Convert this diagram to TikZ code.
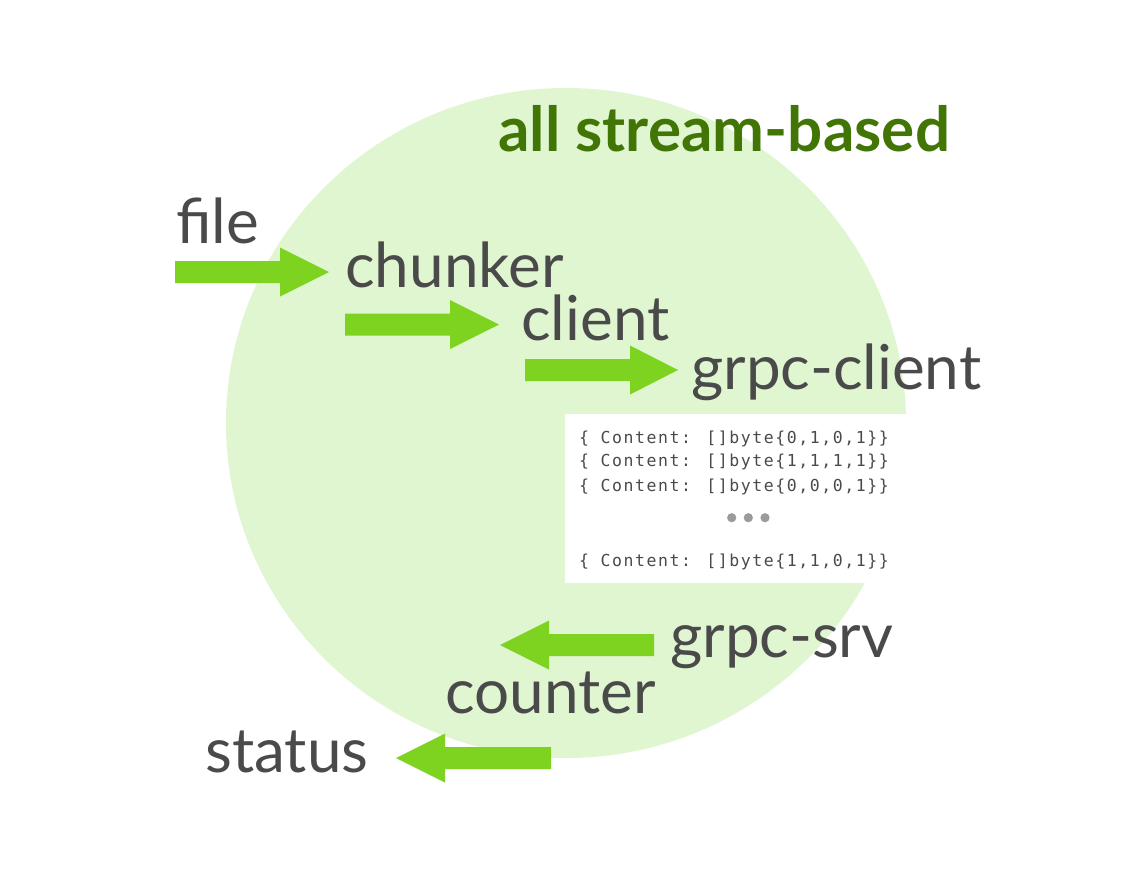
\documentclass[tikz,border=0pt]{standalone}
\usepackage{fontspec}
\setmainfont{Lato}
\newfontfamily\codefont[LetterSpace=9.5]{DejaVu Sans Mono}
\usetikzlibrary{calc}
\definecolor{bubble}{RGB}{224,246,208}
\definecolor{arrowgreen}{RGB}{126,211,33}
\definecolor{titlegreen}{RGB}{65,117,5}
\definecolor{txt}{RGB}{74,74,74}
\definecolor{dotgray}{RGB}{155,155,155}
\newcommand\fatarrow[3]{%
  \fill[arrowgreen] ($(#1)+(0,-11)$) -- ($(#2)+(#3,-11)$) -- ($(#2)+(#3,-24.5)$) -- (#2)
    -- ($(#2)+(#3,24.5)$) -- ($(#2)+(#3,11)$) -- ($(#1)+(0,11)$) -- cycle;}
\begin{document}
\begin{tikzpicture}[x=1pt,y=-1pt,
  lbl/.style={anchor=base west,inner sep=0pt,text=txt,font=\fontsize{62}{62}\selectfont},
  code/.style={anchor=base west,inner sep=0pt,text=txt,font=\codefont\fontsize{16.5}{16.5}\selectfont},
  dot/.style={fill=dotgray}]
\useasboundingbox (0,0) rectangle (1134,876);
\fill[white] (0,0) rectangle (1134,876);
\fill[bubble] (566,423) ellipse [x radius=340, y radius=335];
\fill[white] (565,414) rectangle (910,583);
\node[anchor=base west,inner sep=0pt,text=titlegreen,font=\bfseries\fontsize{62}{62}\selectfont] (title) at (498,151) {all stream-based};
\node[lbl] (file) at (176,243) {file};
\node[lbl] (chunker) at (345,287) {chunker};
\node[lbl] (client) at (521,340) {client};
\node[lbl] (grpcclient) at (691,389) {grpc-client};
\node[lbl] (grpcsrv) at (670,657) {grpc-srv};
\node[lbl] (counter) at (445,713) {counter};
\node[lbl] (status) at (205,772) {status};
\node[code] (c1) at (579,443.3) {\{ Content: []byte\{0,1,0,1\}\}};
\node[code] (c2) at (579,466.7) {\{ Content: []byte\{1,1,1,1\}\}};
\node[code] (c3) at (579,491) {\{ Content: []byte\{0,0,0,1\}\}};
\node[code] (c4) at (579,566.7) {\{ Content: []byte\{1,1,0,1\}\}};
\fill[dot] (731.7,517.7) circle (4.6);
\fill[dot] (748.3,517.7) circle (4.6);
\fill[dot] (765,517.7) circle (4.6);
\coordinate (a1s) at (175,272);   \coordinate (a1e) at (329,272);
\coordinate (a2s) at (345,324.5); \coordinate (a2e) at (499,324.5);
\coordinate (a3s) at (525,370);   \coordinate (a3e) at (678,370);
\coordinate (a4s) at (654,645);   \coordinate (a4e) at (500,645);
\coordinate (a5s) at (551,758);   \coordinate (a5e) at (396,758);
\fatarrow{a1s}{a1e}{-49}
\fatarrow{a2s}{a2e}{-49}
\fatarrow{a3s}{a3e}{-48}
\fatarrow{a4s}{a4e}{49}
\fatarrow{a5s}{a5e}{49}
\end{tikzpicture}
\end{document}
